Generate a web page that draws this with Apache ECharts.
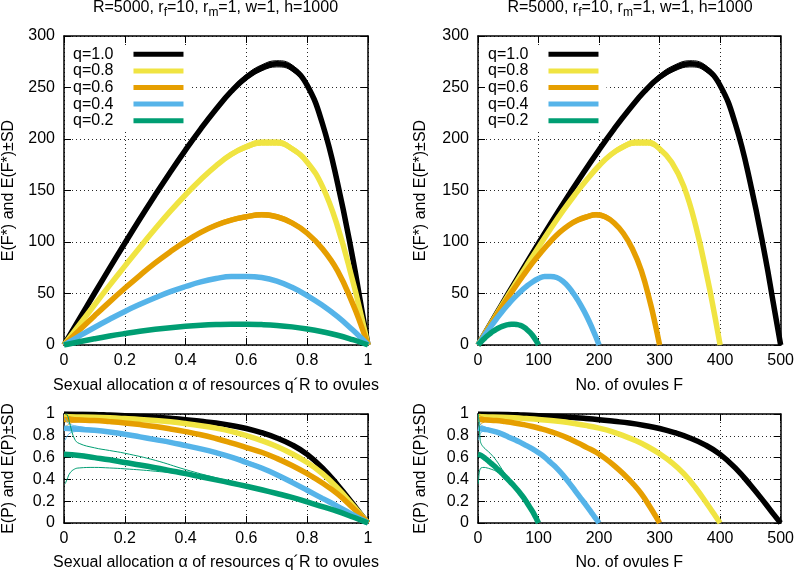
<!DOCTYPE html>
<html><head><meta charset="utf-8">
<script src="https://cdn.jsdelivr.net/npm/echarts/dist/echarts.min.js"></script>
<style>html,body{margin:0;padding:0;background:#fff}#c{width:797px;height:573px}</style>
</head><body><div id="c"></div>
<script>
// ---------------- data ----------------
const qLabels = ['q=1.0', 'q=0.8', 'q=0.6', 'q=0.4', 'q=0.2'];
const seriesColors = ['#000000', '#f0e442', '#e69f00', '#56b4e9', '#009e73'];
const ovuleMax = [500, 400, 300, 200, 100];           // F at alpha = 1 for each q
const xTicksAlpha = [0, 0.2, 0.4, 0.6, 0.8, 1];
const xTicksF = [0, 100, 200, 300, 400, 500];
const yTicksF = [0, 50, 100, 150, 200, 250, 300];
const yTicksP = [0, 0.2, 0.4, 0.6, 0.8, 1];

const alpha = [0, 0.05, 0.1, 0.15, 0.2, 0.25, 0.3, 0.35, 0.4, 0.45, 0.5, 0.55, 0.6, 0.65, 0.7, 0.75, 0.8, 0.85, 0.9, 0.95, 0.975, 1];

// E(F*) means
const fQ10 = [0, 25, 50, 74.6, 98.8, 122.5, 145.6, 168, 189.5, 209.9, 228.9, 246.2, 260, 269, 273, 269, 252, 215, 157, 84, 42, 0];
const fQ08 = [0, 19.5, 38.8, 57.9, 76.6, 95, 112.8, 129.9, 145.9, 160.7, 174, 185, 192.5, 196.5, 196.5, 190.5, 177.5, 154, 115, 62, 32, 0];
const fQ06 = [0, 14.2, 28.2, 41.9, 55.1, 67.7, 79.7, 90.6, 100.6, 109.4, 116.3, 121.3, 124.5, 126.5, 124.5, 118.5, 108.5, 93.5, 72, 40, 21, 0];
const fQ04 = [0, 8.6, 17, 25, 32.6, 39.5, 45.9, 51.8, 56.8, 61.2, 64.5, 66.6, 66.6, 65.5, 62, 56, 48, 38.5, 27.5, 14.5, 7.5, 0];
const fQ02 = [0, 3.1, 6, 8.7, 11.1, 13.3, 15.2, 16.8, 18.1, 19.1, 19.8, 20.2, 20.2, 19.8, 19, 17.6, 15.5, 12.8, 9.5, 5.2, 2.7, 0];

// SD of F*
const fsdQ10 = [0, 0.3, 0.6, 0.9, 1.1, 1.3, 1.5, 1.7, 1.9, 2.1, 2.3, 2.5, 2.7, 2.9, 3.0, 3.0, 2.8, 2.5, 2.0, 1.3, 0.7, 0];
const fsdQ08 = [0, 0.3, 0.5, 0.7, 0.9, 1.1, 1.3, 1.5, 1.7, 1.9, 2.1, 2.3, 2.5, 2.6, 2.6, 2.5, 2.3, 2.0, 1.6, 1.0, 0.5, 0];
const fsdQ06 = [0, 0.3, 0.5, 0.7, 0.9, 1.0, 1.2, 1.4, 1.6, 1.7, 1.9, 2.0, 2.1, 2.2, 2.2, 2.1, 1.9, 1.6, 1.3, 0.8, 0.4, 0];
const fsdQ04 = [0, 0.3, 0.5, 0.6, 0.8, 0.9, 1.0, 1.1, 1.2, 1.3, 1.4, 1.5, 1.5, 1.5, 1.5, 1.4, 1.3, 1.1, 0.9, 0.6, 0.3, 0];
const fsdQ02 = [0, 0.3, 0.4, 0.5, 0.5, 0.6, 0.6, 0.6, 0.7, 0.7, 0.7, 0.7, 0.7, 0.7, 0.6, 0.6, 0.6, 0.5, 0.4, 0.3, 0.2, 0];

// E(P) means
const pQ10 = [1.00, 0.998, 0.995, 0.99, 0.985, 0.978, 0.97, 0.96, 0.948, 0.933, 0.917, 0.895, 0.867, 0.828, 0.78, 0.717, 0.63, 0.506, 0.349, 0.177, 0.086, 0];
const pQ08 = [0.975, 0.973, 0.97, 0.965, 0.958, 0.95, 0.94, 0.928, 0.912, 0.893, 0.87, 0.841, 0.802, 0.756, 0.702, 0.635, 0.555, 0.453, 0.319, 0.163, 0.082, 0];
const pQ06 = [0.95, 0.945, 0.94, 0.93, 0.918, 0.903, 0.885, 0.863, 0.838, 0.81, 0.775, 0.735, 0.692, 0.649, 0.593, 0.527, 0.452, 0.367, 0.267, 0.14, 0.072, 0];
const pQ04 = [0.87, 0.86, 0.85, 0.835, 0.815, 0.79, 0.765, 0.74, 0.71, 0.68, 0.645, 0.605, 0.555, 0.504, 0.443, 0.373, 0.30, 0.226, 0.153, 0.076, 0.038, 0];
const pQ02 = [0.63, 0.62, 0.60, 0.58, 0.555, 0.532, 0.507, 0.48, 0.453, 0.424, 0.396, 0.367, 0.337, 0.305, 0.271, 0.235, 0.194, 0.15, 0.106, 0.055, 0.028, 0];

// E(P)+SD and E(P)-SD curves
const alphaSD = [0.004, 0.01, 0.02, 0.035, 0.05, 0.1, 0.15, 0.2, 0.3, 0.4, 0.5, 0.6, 0.7, 0.8, 0.9, 0.95, 1];
const pUpQ10 = [1.000, 1.000, 1.000, 1.000, 0.999, 0.997, 0.992, 0.987, 0.973, 0.951, 0.920, 0.871, 0.785, 0.636, 0.354, 0.180, 0];
const pLoQ10 = [0.990, 0.993, 0.995, 0.996, 0.996, 0.993, 0.988, 0.983, 0.967, 0.945, 0.914, 0.863, 0.775, 0.624, 0.344, 0.174, 0];
const pUpQ08 = [1.000, 0.998, 0.993, 0.988, 0.985, 0.978, 0.972, 0.964, 0.946, 0.918, 0.876, 0.809, 0.709, 0.561, 0.324, 0.166, 0];
const pLoQ08 = [0.930, 0.945, 0.955, 0.960, 0.962, 0.962, 0.958, 0.952, 0.934, 0.906, 0.864, 0.795, 0.695, 0.549, 0.314, 0.160, 0];
const pUpQ06 = [0.995, 0.985, 0.975, 0.968, 0.963, 0.952, 0.940, 0.927, 0.893, 0.848, 0.783, 0.700, 0.601, 0.457, 0.272, 0.143, 0];
const pLoQ06 = [0.870, 0.895, 0.915, 0.925, 0.928, 0.928, 0.920, 0.909, 0.877, 0.828, 0.767, 0.684, 0.585, 0.447, 0.262, 0.137, 0];
const pUpQ04 = [0.960, 0.930, 0.905, 0.893, 0.885, 0.865, 0.848, 0.828, 0.778, 0.722, 0.657, 0.573, 0.455, 0.310, 0.160, 0.080, 0];
const pLoQ04 = [0.760, 0.795, 0.825, 0.838, 0.842, 0.835, 0.822, 0.802, 0.752, 0.698, 0.633, 0.547, 0.431, 0.290, 0.146, 0.072, 0];
const pUpQ02 = [1.000, 0.995, 0.900, 0.770, 0.730, 0.690, 0.665, 0.640, 0.575, 0.490, 0.415, 0.350, 0.280, 0.200, 0.110, 0.057, 0];
const pLoQ02 = [0.360, 0.400, 0.460, 0.495, 0.505, 0.510, 0.505, 0.497, 0.475, 0.443, 0.390, 0.331, 0.266, 0.190, 0.103, 0.053, 0];

const fMeans = [fQ10, fQ08, fQ06, fQ04, fQ02];
const fSDs = [fsdQ10, fsdQ08, fsdQ06, fsdQ04, fsdQ02];
const pMeans = [pQ10, pQ08, pQ06, pQ04, pQ02];
const pUps = [pUpQ10, pUpQ08, pUpQ06, pUpQ04, pUpQ02];
const pLos = [pLoQ10, pLoQ08, pLoQ06, pLoQ04, pLoQ02];

// ---------------- layout ----------------
const FONT = 'Liberation Sans, Arial, Helvetica, sans-serif';
const FS = 16;
const grids = [
  {left: 63, top: 36, width: 305, height: 309},
  {left: 478, top: 36, width: 304, height: 309},
  {left: 63, top: 414, width: 305, height: 109},
  {left: 478, top: 414, width: 304, height: 109}
];
const xNameAlpha = 'Sexual allocation \u03b1 of resources q\u00b4R to ovules';
const xNameF = 'No. of ovules F';
const yNameF = 'E(F*) and E(F*)\u00b1SD';
const yNameP = 'E(P) and E(P)\u00b1SD';

function fmt(v) { return String(Math.round(v * 1000) / 1000); }

const gridLineStyle = {color: '#000', width: 1, type: [1, 3], opacity: 0.85};

function mainX(gi, ticks, name, nameGap) {
  return {
    type: 'value', gridIndex: gi, position: 'bottom',
    min: ticks[0], max: ticks[ticks.length - 1], interval: ticks[1] - ticks[0],
    name: name, nameLocation: 'middle', nameGap: nameGap,
    nameTextStyle: {fontFamily: FONT, fontSize: FS, color: '#000'},
    axisLine: {show: true, onZero: false, lineStyle: {color: '#000', width: 1.5}},
    axisTick: {show: true, inside: true, length: 7, lineStyle: {color: '#000', width: 1}},
    axisLabel: {show: true, margin: 8, fontFamily: FONT, fontSize: FS, color: '#000', formatter: fmt},
    splitLine: {show: true, lineStyle: gridLineStyle}
  };
}
function mirrorX(gi, ticks) {
  return {
    type: 'value', gridIndex: gi, position: 'top',
    min: ticks[0], max: ticks[ticks.length - 1], interval: ticks[1] - ticks[0],
    axisLine: {show: true, onZero: false, lineStyle: {color: '#000', width: 1.5}},
    axisTick: {show: true, inside: true, length: 7, lineStyle: {color: '#000', width: 1}},
    axisLabel: {show: false}, splitLine: {show: false}
  };
}
function mainY(gi, ticks, name, nameGap) {
  return {
    type: 'value', gridIndex: gi, position: 'left',
    min: ticks[0], max: ticks[ticks.length - 1], interval: ticks[1] - ticks[0],
    name: name, nameLocation: 'middle', nameGap: nameGap,
    nameTextStyle: {fontFamily: FONT, fontSize: FS, color: '#000'},
    axisLine: {show: true, onZero: false, lineStyle: {color: '#000', width: 1.5}},
    axisTick: {show: true, inside: true, length: 7, lineStyle: {color: '#000', width: 1}},
    axisLabel: {show: true, margin: 9, fontFamily: FONT, fontSize: FS, color: '#000', formatter: fmt},
    splitLine: {show: true, lineStyle: gridLineStyle}
  };
}
function mirrorY(gi, ticks) {
  return {
    type: 'value', gridIndex: gi, position: 'right',
    min: ticks[0], max: ticks[ticks.length - 1], interval: ticks[1] - ticks[0],
    axisLine: {show: true, onZero: false, lineStyle: {color: '#000', width: 1.5}},
    axisTick: {show: true, inside: true, length: 7, lineStyle: {color: '#000', width: 1}},
    axisLabel: {show: false}, splitLine: {show: false}
  };
}

const xAxes = [
  mainX(0, xTicksAlpha, xNameAlpha, 33),
  mainX(1, xTicksF, xNameF, 33),
  mainX(2, xTicksAlpha, xNameAlpha, 32),
  mainX(3, xTicksF, xNameF, 32),
  mirrorX(0, xTicksAlpha), mirrorX(1, xTicksF), mirrorX(2, xTicksAlpha), mirrorX(3, xTicksF)
];
const yAxes = [
  mainY(0, yTicksF, yNameF, 47),
  mainY(1, yTicksF, yNameF, 49),
  mainY(2, yTicksP, yNameP, 47),
  mainY(3, yTicksP, yNameP, 49),
  mirrorY(0, yTicksF), mirrorY(1, yTicksF), mirrorY(2, yTicksP), mirrorY(3, yTicksP)
];

function lineSeries(name, data, gi, color, width) {
  return {
    type: 'line', name: name, xAxisIndex: gi, yAxisIndex: gi, data: data,
    showSymbol: false, symbol: 'none', smooth: 0.45, silent: true, animation: false,
    itemStyle: {color: color},
    lineStyle: {color: color, width: width}
  };
}

const series = [];
for (let i = 0; i < qLabels.length; i++) {
  const c = seriesColors[i];
  const fm = fMeans[i], fs = fSDs[i], pm = pMeans[i], pu = pUps[i], pl = pLos[i];
  const fmax = ovuleMax[i];
  // top-left: vs alpha
  series.push(lineSeries(qLabels[i], alpha.map((a, k) => [a, fm[k]]), 0, c, 5.5));
  series.push(lineSeries('sd', alpha.map((a, k) => [a, fm[k] + fs[k]]), 0, c, 1));
  series.push(lineSeries('sd', alpha.map((a, k) => [a, fm[k] - fs[k]]), 0, c, 1));
  // top-right: vs number of ovules
  series.push(lineSeries(qLabels[i], alpha.map((a, k) => [a * fmax, fm[k]]), 1, c, 5.5));
  series.push(lineSeries('sd', alpha.map((a, k) => [a * fmax, fm[k] + fs[k]]), 1, c, 1));
  series.push(lineSeries('sd', alpha.map((a, k) => [a * fmax, fm[k] - fs[k]]), 1, c, 1));
  // bottom-left: P vs alpha
  series.push(lineSeries(qLabels[i], alpha.map((a, k) => [a, pm[k]]), 2, c, 5.5));
  series.push(lineSeries('sd', alphaSD.map((a, k) => [a, pu[k]]), 2, c, 1));
  series.push(lineSeries('sd', alphaSD.map((a, k) => [a, pl[k]]), 2, c, 1));
  // bottom-right: P vs ovules
  series.push(lineSeries(qLabels[i], alpha.map((a, k) => [a * fmax, pm[k]]), 3, c, 5.5));
  series.push(lineSeries('sd', alphaSD.map((a, k) => [a * fmax, pu[k]]), 3, c, 1));
  series.push(lineSeries('sd', alphaSD.map((a, k) => [a * fmax, pl[k]]), 3, c, 1));
}

function legendAt(left) {
  return {
    data: qLabels, orient: 'vertical', align: 'right', left: left, top: 46,
    icon: 'rect', itemWidth: 50, itemHeight: 5, itemGap: 0,
    padding: [0, 8, 0, 2], backgroundColor: '#ffffff', selectedMode: false,
    textStyle: {fontFamily: FONT, fontSize: FS, color: '#000', lineHeight: 16.6, padding: [0, 15, 0, 0]}
  };
}

const titleRich = {
  n: {fontFamily: FONT, fontSize: FS, fontWeight: 'normal', color: '#000', lineHeight: 16},
  s: {fontFamily: FONT, fontSize: 12, fontWeight: 'normal', color: '#000', lineHeight: 12, padding: [10, 0, 0, 0]}
};
const titleText = '{n|R=5000, r}{s|f}{n|=10, r}{s|m}{n|=1, w=1, h=1000}';

const option = {
  backgroundColor: '#ffffff',
  animation: false,
  title: [
    {text: titleText, left: 215.5, top: 0, textAlign: 'center', padding: 0, textStyle: {fontWeight: 'normal', rich: titleRich}},
    {text: titleText, left: 630, top: 0, textAlign: 'center', padding: 0, textStyle: {fontWeight: 'normal', rich: titleRich}}
  ],
  legend: [legendAt(71), legendAt(486)],
  grid: grids.map(g => Object.assign({containLabel: false, show: false}, g)),
  xAxis: xAxes,
  yAxis: yAxes,
  series: series
};

const chart = echarts.init(document.getElementById('c'), null, {renderer: 'canvas'});
chart.setOption(option);
</script>
</body></html>
